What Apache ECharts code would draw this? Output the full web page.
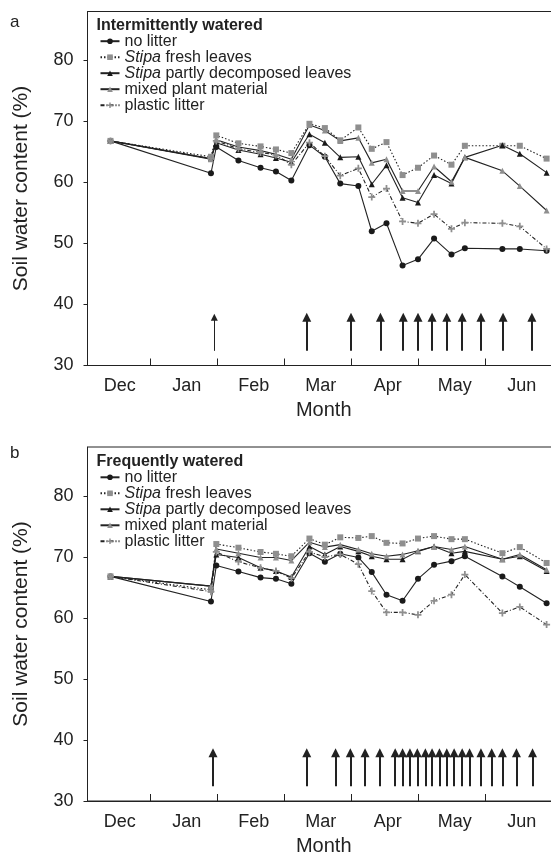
<!DOCTYPE html>
<html>
<head>
<meta charset="utf-8">
<script src="https://cdn.jsdelivr.net/npm/echarts@6/dist/echarts.min.js"></script>
<style>
html, body { margin: 0; padding: 0; background: #fff; }
#chart { width: 551px; height: 855px; }
</style>
</head>
<body>
<div id="chart"></div>
<script>
var FONT = '"Liberation Sans", Arial, sans-serif';
var INK = '#222';

// time axis counted in months from the start of December
var monthNames = ['Dec', 'Jan', 'Feb', 'Mar', 'Apr', 'May', 'Jun'];
var monthLabelPos = [0.55, 1.55, 2.55, 3.55, 4.55, 5.55, 6.55];
var monthTickPos = [1, 2, 3, 4, 5, 6];

// sampling dates (same in both panels)
var sampleDates = [0.41, 1.91, 1.99, 2.32, 2.65, 2.88, 3.11, 3.38, 3.61, 3.84, 4.11,
  4.31, 4.53, 4.77, 5.00, 5.24, 5.50, 5.70, 6.26, 6.52, 6.92];

var seriesNames = ['no litter', 'Stipa fresh leaves', 'Stipa partly decomposed leaves',
  'mixed plant material', 'plastic litter'];

// a: intermittently watered
var noLitterA = [66.8, 61.5, 65.8, 63.6, 62.4, 61.8, 60.3, 66.1, 64.2, 59.8, 59.4, 52.0, 53.3, 46.4, 47.4, 50.8, 48.2, 49.2, 49.1, 49.1, 48.8];
var freshA    = [66.8, 64.2, 67.7, 66.4, 65.9, 65.4, 64.8, 69.6, 68.9, 66.9, 69.0, 65.5, 66.6, 61.2, 62.4, 64.4, 62.9, 66.0, 66.0, 66.0, 63.9];
var partlyA   = [66.8, 63.9, 66.5, 65.3, 64.6, 64.0, 63.3, 67.9, 66.5, 64.1, 64.2, 59.7, 62.8, 57.5, 56.7, 61.2, 59.8, 64.1, 66.1, 64.7, 61.6];
var mixedA    = [66.8, 63.8, 67.0, 65.8, 65.2, 64.6, 63.8, 69.4, 68.5, 66.8, 67.3, 63.2, 63.8, 58.6, 58.6, 62.6, 60.1, 64.1, 61.9, 59.4, 55.4];
var plasticA  = [66.8, 63.9, 66.8, 65.5, 64.9, 64.5, 62.9, 66.5, 64.3, 61.1, 62.3, 57.6, 59.0, 53.6, 53.3, 54.8, 52.4, 53.4, 53.3, 52.8, 49.1];
var wateringThinA = [1.96];
var wateringA = [3.34, 4.00, 4.44, 4.78, 5.00, 5.21, 5.43, 5.66, 5.94, 6.27, 6.70];

// b: frequently watered
var noLitterB = [66.8, 62.7, 68.6, 67.6, 66.6, 66.4, 65.6, 70.6, 69.2, 70.5, 69.9, 67.5, 63.8, 62.8, 66.4, 68.7, 69.3, 70.1, 66.8, 65.1, 62.4];
var freshB    = [66.8, 64.6, 72.1, 71.5, 70.8, 70.5, 70.1, 73.0, 72.0, 73.2, 73.1, 73.4, 72.3, 72.2, 73.0, 73.4, 72.9, 72.9, 70.6, 71.6, 69.0];
var partlyB   = [66.8, 65.2, 70.4, 69.9, 68.2, 67.7, 66.7, 71.7, 70.4, 71.7, 70.9, 70.1, 69.6, 69.6, 70.9, 71.7, 70.6, 70.9, 69.6, 70.1, 67.7];
var mixedB    = [66.8, 65.2, 71.3, 70.6, 69.9, 69.9, 69.4, 72.4, 71.6, 72.0, 71.2, 70.5, 70.1, 70.4, 71.0, 71.7, 71.2, 71.7, 69.6, 70.4, 67.9];
var plasticB  = [66.8, 64.3, 70.8, 69.2, 68.2, 67.7, 66.5, 70.8, 70.0, 70.4, 68.8, 64.4, 60.9, 60.9, 60.5, 62.8, 63.8, 67.1, 60.8, 61.8, 58.9];
var wateringB = [1.94, 3.34, 3.77, 3.99, 4.21, 4.43, 4.66, 4.77, 4.88, 4.99, 5.11, 5.21, 5.32, 5.43, 5.54, 5.66, 5.77, 5.94, 6.10, 6.26, 6.47, 6.71];

var arrowFoot = 32.4, arrowTip = 37.9;

var myChart = echarts.init(document.getElementById('chart'));

var plus = 'path://M3,0H5V3H8V5H5V8H3V5H0V3H3Z';
var styles = [
  { symbol: 'circle', size: 6, color: '#1a1a1a', dash: 'solid' },
  { symbol: 'rect', size: 6, color: '#8f8f8f', dash: [1.5, 2] },
  { symbol: 'triangle', size: 6, color: '#1a1a1a', dash: 'solid' },
  { symbol: 'triangle', size: 6, color: '#8f8f8f', dash: 'solid' },
  { symbol: plus, size: 7, color: '#8f8f8f', dash: [4, 2, 1, 2] }
];

function lineSeries(idx, values, gi) {
  var st = styles[idx];
  return {
    name: seriesNames[idx],
    type: 'line',
    xAxisIndex: gi,
    yAxisIndex: gi,
    data: sampleDates.map(function (d, i) { return [d, values[i]]; }),
    symbol: st.symbol,
    symbolSize: st.size,
    showSymbol: true,
    lineStyle: { color: INK, width: 1.1, type: st.dash },
    itemStyle: { color: st.color },
    emphasis: { disabled: true },
    animation: false
  };
}

function arrowSeries(dates, width, head, gi) {
  return {
    type: 'lines',
    coordinateSystem: 'cartesian2d',
    xAxisIndex: gi,
    yAxisIndex: gi,
    symbol: ['none', 'triangle'],
    symbolSize: head,
    lineStyle: { color: INK, width: width, opacity: 1, curveness: 0 },
    data: dates.map(function (d) { return { coords: [[d, arrowFoot], [d, arrowTip]] }; }),
    silent: true,
    animation: false
  };
}

function legendFmt(name) {
  if (name.indexOf('Stipa') === 0) return '{i|Stipa}' + name.slice(5);
  return name;
}

function makeLegend(top) {
  return {
    orient: 'vertical',
    left: 99.5,
    top: top,
    padding: 0,
    itemGap: 0,
    itemWidth: 19,
    itemHeight: 7,
    selectedMode: false,
    data: seriesNames,
    formatter: legendFmt,
    textStyle: {
      fontFamily: FONT, fontSize: 16, color: INK, lineHeight: 16,
      rich: { i: { fontFamily: FONT, fontSize: 16, color: INK, fontStyle: 'italic', lineHeight: 16 } }
    }
  };
}

function xAxisOf(gi) {
  return {
    gridIndex: gi,
    type: 'value',
    min: 0.067,
    max: 7.12,
    name: 'Month',
    nameLocation: 'middle',
    nameGap: 35,
    nameTextStyle: { fontFamily: FONT, fontSize: 20, color: INK },
    axisLine: { lineStyle: { color: INK, width: 1 } },
    axisTick: { customValues: monthTickPos, inside: true, length: 7, lineStyle: { color: INK } },
    axisLabel: {
      customValues: monthLabelPos,
      margin: 12,
      fontFamily: FONT, fontSize: 18, color: INK,
      formatter: function (v) {
        var k = monthLabelPos.indexOf(v);
        return k >= 0 ? monthNames[k] : '';
      }
    },
    splitLine: { show: false }
  };
}

function yAxisOf(gi) {
  return {
    gridIndex: gi,
    type: 'value',
    min: 30,
    max: 88,
    interval: 10,
    name: 'Soil water content (%)',
    nameLocation: 'middle',
    nameGap: 56,
    nameTextStyle: { fontFamily: FONT, fontSize: 21, color: INK },
    axisLine: { show: true, lineStyle: { color: INK, width: 1 } },
    axisTick: { show: true, length: 4, lineStyle: { color: INK } },
    axisLabel: { showMaxLabel: false, margin: 14, fontFamily: FONT, fontSize: 18, color: INK },
    splitLine: { show: false }
  };
}

var series = [];
[noLitterA, freshA, partlyA, mixedA, plasticA].forEach(function (v, i) { series.push(lineSeries(i, v, 0)); });
[noLitterB, freshB, partlyB, mixedB, plasticB].forEach(function (v, i) { series.push(lineSeries(i, v, 1)); });
series.push(arrowSeries(wateringThinA, 1, [6, 7], 0));
series.push(arrowSeries(wateringA, 2, [7, 9], 0));
series.push(arrowSeries(wateringB, 2, [7, 9], 1));

var titleStyle = { fontFamily: FONT, fontSize: 16, fontWeight: 'bold', color: INK, lineHeight: 20 };
var panelStyle = { fontFamily: FONT, fontSize: 17, fontWeight: 'normal', color: INK, lineHeight: 20 };

var option = {
  backgroundColor: '#fff',
  animation: false,
  title: [
    { text: 'a', left: 10, top: 12, padding: 0, textStyle: panelStyle },
    { text: 'Intermittently watered', left: 96.5, top: 15.5, padding: 0, textStyle: titleStyle },
    { text: 'b', left: 10, top: 443, padding: 0, textStyle: panelStyle },
    { text: 'Frequently watered', left: 96.5, top: 451.7, padding: 0, textStyle: titleStyle }
  ],
  legend: [makeLegend(33.2), makeLegend(469.3)],
  grid: [
    { left: 87.5, top: 11.5, width: 472.5, height: 354, outerBoundsMode: 'none', show: true, borderColor: INK, borderWidth: 1 },
    { left: 87.5, top: 447, width: 472.5, height: 354, outerBoundsMode: 'none', show: true, borderColor: INK, borderWidth: 1 }
  ],
  xAxis: [xAxisOf(0), xAxisOf(1)],
  yAxis: [yAxisOf(0), yAxisOf(1)],
  series: series
};

myChart.setOption(option);
</script>
</body>
</html>
